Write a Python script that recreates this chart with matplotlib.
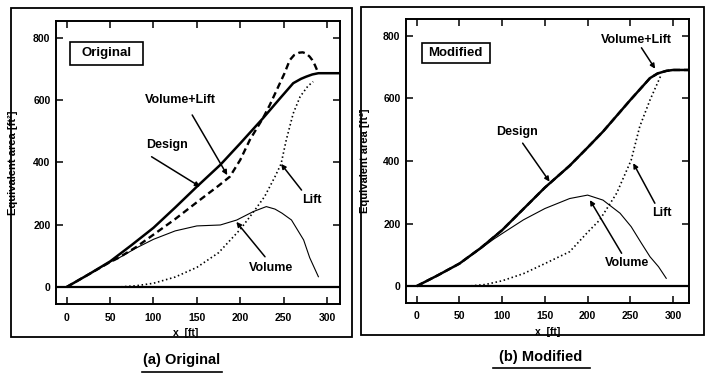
import matplotlib
matplotlib.use("Agg")
import matplotlib.pyplot as plt
from matplotlib.patches import Rectangle
from matplotlib.lines import Line2D

plt.rcParams['font.family'] = ['Liberation Sans', 'DejaVu Sans']
plt.rcParams['font.weight'] = 'bold'

# ---------------- data: (a) Original ----------------
design_a_x = [0, 25, 50, 75, 100, 125, 150, 177, 200, 226, 246, 261, 270, 276, 283, 290, 300, 315]
design_a_y = [0, 40, 82, 135, 190, 255, 322, 392, 461, 541, 606, 654, 668, 675, 682, 686, 686, 686]

vl_a_x = [0, 25, 50, 60, 80, 100, 125, 150, 175, 188, 200, 211, 219, 226, 234, 242, 251, 257, 262, 268, 272, 276, 280, 283, 286, 290]
vl_a_y = [0, 40, 80, 94, 128, 168, 218, 272, 325, 354, 408, 472, 509, 541, 584, 632, 686, 728, 744, 752, 753, 749, 739, 728, 712, 686]

vol_a_x = [0, 25, 50, 60, 80, 100, 125, 150, 177, 196, 215, 230, 240, 248, 259, 266, 273, 280, 290]
vol_a_y = [0, 40, 80, 93, 125, 153, 180, 196, 199, 215, 242, 258, 250, 237, 215, 183, 151, 94, 33]

lift_a_x = [0, 60, 80, 100, 125, 150, 175, 200, 215, 228, 240, 247, 253, 261, 269, 278, 284]
lift_a_y = [0, 0, 4, 12, 32, 63, 110, 185, 240, 290, 354, 395, 472, 557, 611, 645, 659]

# ---------------- data: (b) Modified ----------------
design_b_x = [0, 25, 50, 75, 100, 125, 150, 179, 200, 218, 250, 273, 282, 292, 300, 320]
design_b_y = [0, 35, 72, 122, 179, 247, 315, 385, 443, 494, 595, 665, 680, 688, 691, 691]

vl_b_x = [0, 25, 50, 75, 100, 125, 150, 179, 200, 218, 250, 273, 282, 292, 300, 320]
vl_b_y = [0, 35, 72, 122, 179, 247, 315, 385, 443, 494, 595, 665, 680, 688, 691, 691]

vol_b_x = [0, 25, 50, 75, 90, 100, 125, 150, 179, 200, 218, 238, 251, 263, 273, 283, 292]
vol_b_y = [0, 35, 72, 120, 150, 168, 212, 248, 280, 291, 275, 233, 190, 137, 94, 62, 25]

lift_b_x = [0, 60, 80, 100, 125, 150, 179, 200, 214, 234, 251, 261, 273, 286]
lift_b_y = [0, 0, 5, 17, 40, 72, 110, 172, 211, 297, 403, 510, 595, 675]

x_ticks = [0, 50, 100, 150, 200, 250, 300]
y_ticks = [0, 200, 400, 600, 800]

W, H = 711, 376
fig = plt.figure(figsize=(W / 100, H / 100), dpi=100)


def fx(px):
    return px / W


def fy(py):
    return 1 - py / H


def panel(ax_rect, xlim, ylim, series, tag, tagbox, tagpos, notes, xlab_pos, ylab_x):
    ax = fig.add_axes(ax_rect)
    dx, dy, vx, vy, lx, ly, vlx, vly = series
    ax.plot(vlx, vly, color='black', lw=1.7, linestyle=(0, (2.8, 1.7)), zorder=2)
    ax.plot(dx, dy, color='black', lw=1.8, zorder=3, solid_capstyle='butt')
    ax.plot(vx, vy, color='black', lw=0.8, zorder=3)
    ax.plot(lx, ly, color='black', lw=1.2, linestyle=(0, (0.9, 1.6)), zorder=3)
    ax.axhline(0, color='black', lw=1.6, zorder=4)
    ax.set_xlim(*xlim)
    ax.set_ylim(*ylim)
    ax.set_xticks(x_ticks)
    ax.set_yticks(y_ticks)
    ax.tick_params(direction='in', length=5, width=1.1, top=True, right=True,
                   labelsize=7.5, pad=4)
    ax.tick_params(axis='x', pad=6)
    for s in ax.spines.values():
        s.set_linewidth(1.4)
    for lab in ax.get_xticklabels() + ax.get_yticklabels():
        lab.set_fontweight('bold')
    ax.set_xlabel('x  [ft]', fontsize=7.5, fontweight='bold')
    ax.xaxis.set_label_coords(*xlab_pos)
    ax.set_ylabel('Equivalent area [ft²]', fontsize=8, fontweight='bold')
    ax.yaxis.set_label_coords(ylab_x, 0.5)
    (bx0, bx1, by0, by1) = tagbox
    ax.add_patch(Rectangle((bx0, by0), bx1 - bx0, by1 - by0, fill=False,
                           lw=1.2, ec='black', zorder=5))
    ax.text(tagpos[0], tagpos[1], tag, ha='center', va='center', fontsize=9.5,
            fontweight='bold', zorder=6)
    for txt, tpos, a0, a1 in notes:
        ax.text(tpos[0], tpos[1], txt, ha='center', va='center', fontsize=9,
                fontweight='bold', zorder=6)
        ax.annotate('', xy=a1, xytext=a0,
                    arrowprops=dict(arrowstyle='-|>', lw=1.1, color='black',
                                    mutation_scale=7, shrinkA=0, shrinkB=0),
                    zorder=6)
    return ax


# ---------------- (a) Original ----------------
ax1 = panel([fx(56), fy(304.3), fx(340) - fx(56), fy(20.7) - fy(304.3)],
            (-12.3, 314.9), (-55.5, 854.5),
            (design_a_x, design_a_y, vol_a_x, vol_a_y, lift_a_x, lift_a_y, vl_a_x, vl_a_y),
            'Original', (3.8, 88.2, 712, 787), (46.4, 750),
            [('Volume+Lift', (130.5, 600), (144.6, 552), (185, 359)),
             ('Design', (115.2, 456), (97.8, 418), (153.6, 322)),
             ('Lift', (282, 279), (270.6, 311), (247, 395)),
             ('Volume', (236, 60), (228.5, 97), (195.5, 209))],
            (0.455, -0.085), -0.135)

# ---------------- (b) Modified ----------------
ax2 = panel([fx(406), fy(302.7), fx(689.3) - fx(406), fy(19.3) - fy(302.7)],
            (-12.5, 319), (-53, 853),
            (design_b_x, design_b_y, vol_b_x, vol_b_y, lift_b_x, lift_b_y, vl_b_x, vl_b_y),
            'Modified', (5.8, 85.7, 714.6, 776.6), (45.7, 745.6),
            [('Volume+Lift', (257.3, 787), (263, 762), (279, 695)),
             ('Design', (117, 494), (124, 457), (155.5, 334)),
             ('Lift', (286.5, 233), (278.7, 265), (253.4, 393)),
             ('Volume', (245.6, 73), (239.8, 105), (202.7, 275))],
            (0.5, -0.085), -0.127)

# outer panel frames
fig.add_artist(Rectangle((fx(10.7), fy(336.7)), fx(352) - fx(10.7), fy(8.3) - fy(336.7),
                         transform=fig.transFigure, fill=False, lw=1.3, ec='black'))
fig.add_artist(Rectangle((fx(361), fy(335)), fx(704) - fx(361), fy(6.7) - fy(335),
                         transform=fig.transFigure, fill=False, lw=1.3, ec='black'))

# captions with underline
fig.text(fx(182), fy(360), '(a) Original', ha='center', va='center', fontsize=10.5,
         fontweight='bold')
fig.add_artist(Line2D([fx(142), fx(222)], [fy(372), fy(372)], transform=fig.transFigure,
                      color='black', lw=1.2))
fig.text(fx(541), fy(356.7), '(b) Modified', ha='center', va='center', fontsize=10.5,
         fontweight='bold')
fig.add_artist(Line2D([fx(493), fx(590)], [fy(368.3), fy(368.3)], transform=fig.transFigure,
                      color='black', lw=1.2))

fig.savefig('out.png', dpi=100)
